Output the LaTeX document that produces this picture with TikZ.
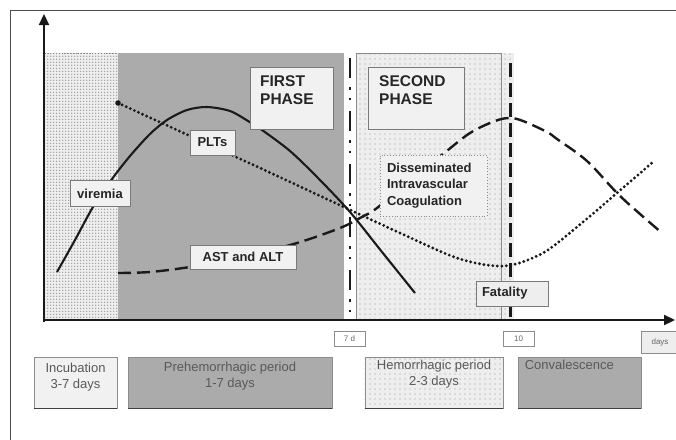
\documentclass[tikz,border=0pt]{standalone}
\usepackage{fontspec}
\setmainfont{Liberation Sans}
\usetikzlibrary{arrows.meta,patterns.meta}

% dot textures for the incubation and haemorrhagic phases
\pgfdeclarepattern{
  name=finedots, type=uncolored,
  bottom left={\pgfpoint{-1pt}{-1pt}}, top right={\pgfpoint{2pt}{2pt}},
  tile size={\pgfpoint{3pt}{3pt}},
  code={\pgfpathcircle{\pgfpointorigin}{0.7pt}\pgfusepath{fill}}}
\pgfdeclarepattern{
  name=sparsedots, type=uncolored,
  bottom left={\pgfpoint{-1pt}{-1pt}}, top right={\pgfpoint{4pt}{4pt}},
  tile size={\pgfpoint{5pt}{5pt}},
  code={\pgfpathcircle{\pgfpointorigin}{0.7pt}\pgfusepath{fill}}}

\definecolor{darkband}{HTML}{ABABAB}
\definecolor{lightband}{HTML}{EEEEEE}
\definecolor{boxfill}{HTML}{F1F1F1}
\definecolor{boxline}{HTML}{7A7A7A}
\definecolor{curveink}{HTML}{1A1A1A}

\tikzset{
  lbl/.style={draw=boxline, fill=boxfill, line width=0.9pt, text=black!85,
    font=\bfseries\fontsize{13}{16}\selectfont, inner sep=0pt},
  phasetext/.style={anchor=north west, inner sep=0pt, align=left, text=black!85,
    font=\bfseries\fontsize{15.5}{18.5}\selectfont},
  periodbox/.style={draw=black!45, line width=0.7pt, inner sep=0pt},
  periodtext/.style={inner sep=0pt, align=center, text=black!65,
    font=\fontsize{13}{16}\selectfont},
  ticklbl/.style={draw=black!45, line width=0.7pt, fill=white, inner sep=0pt,
    text=black!60, font=\fontsize{8}{9}\selectfont},
  solidcurve/.style={draw=curveink, line width=2.1pt},
  dotcurve/.style={draw=curveink, line width=3.2pt, line cap=round,
    dash pattern=on 0pt off 4.5pt},
  dashcurve/.style={draw=curveink, line width=2.4pt,
    dash pattern=on 13pt off 6pt},
  axisline/.style={draw=black!90, line width=2.2pt,
    -{Triangle[length=11pt,width=10pt]}},
}

\begin{document}
\begin{tikzpicture}[x=1pt,y=-1pt]
\useasboundingbox (0,0) rectangle (676,439);
\fill[white] (0,0) rectangle (676,439);

% outer frame
\draw[black!70, line width=0.9pt] (10,450) -- (10,10) -- (690,10);

% phase bands of the chart
\fill[lightband] (44,53) rectangle (118,320);
\fill[pattern=finedots, pattern color=black!45] (44,53) rectangle (118,320);
\draw[black!50, line width=0.8pt, dotted] (44,53) rectangle (118,320);
\fill[darkband] (118,53) rectangle (344,320);
\fill[lightband] (356,53) rectangle (514,320);
\fill[pattern=sparsedots, pattern color=black!40] (356,53) rectangle (514,320);
\draw[black!45, line width=0.7pt] (356,53) rectangle (501,320);

% day markers
\draw[curveink, line width=2.6pt,
  dash pattern=on 20pt off 9pt on 2.5pt off 8pt on 2.5pt off 11pt]
  (350,58) -- (350,320);
\draw[curveink, line width=3pt, dash pattern=on 14pt off 6pt]
  (510,63) -- (510,320);

% course of the laboratory values
\draw[solidcurve] plot[smooth, tension=0.5] coordinates {
  (57,272) (75,240) (93,207) (112,179) (130,156) (150,134) (167,120)
  (187,110) (207,107) (230,111) (248,121) (262,130) (290,151) (318,178)
  (350,212) (382,252) (415,293)};
\draw[dotcurve] plot[smooth, tension=0.5] coordinates {
  (118,103) (260,168) (400,233) (460,259) (505,266) (543,253)
  (577,227) (617,193) (653,162)};
\fill[curveink] (118,103) circle (2.8pt);
\draw[dashcurve] plot[smooth, tension=0.55] coordinates {
  (118,273) (150,272) (190,267) (240,258) (297,243) (340,228) (360,218)
  (377,208) (410,180) (443,154) (470,133) (495,121) (510,118) (523,121)
  (547,132) (557,139) (587,161) (617,193) (640,214) (662,233)};

% phase titles
\node[lbl, minimum width=83pt, minimum height=62pt] (first) at (291.5,98) {};
\node[phasetext] (firstt) at (260,75) {FIRST\\PHASE};
\node[lbl, minimum width=96pt, minimum height=62pt] (second) at (416,98) {};
\node[phasetext] (secondt) at (379,75) {SECOND\\PHASE};

% curve labels
\node[lbl, minimum width=45pt, minimum height=25pt] (plt) at (212.5,142.5) {PLTs};
\node[lbl, minimum width=60pt, minimum height=26pt] (vir) at (100,193.5) {viremia};
\node[lbl, minimum width=106pt, minimum height=24pt] (ast) at (243,257) {AST and ALT};
\node[lbl, dotted, draw=black!45, minimum width=107pt, minimum height=61pt,
  text width=93pt, align=left, font=\bfseries\fontsize{13}{16.5}\selectfont]
  (dic) at (433.5,185.5) {Disseminated\\Intravascular\\Coagulation};
\node[lbl, minimum width=72pt, minimum height=25pt, text width=60pt,
  align=left, fill=lightband] (fat) at (512,293.5) {Fatality};

% axes
\draw[axisline] (44,322) -- (44,14);
\draw[axisline] (43,320) -- (675,320);

% axis ticks
\node[ticklbl, minimum width=31pt, minimum height=15pt] (d7) at (349.5,338.5) {7 d};
\node[ticklbl, minimum width=31pt, minimum height=15pt] (d10) at (518.5,338.5) {10};
\node[ticklbl, fill=lightband, minimum width=38pt, minimum height=22pt]
  (days) at (660,342) {days};

% clinical periods
\node[periodbox, fill=boxfill, minimum width=83pt, minimum height=51pt]
  (inc) at (75.5,382.5) {};
\node[periodtext, anchor=north] (inct) at ([yshift=-6pt]inc.north) {Incubation\\3-7 days};
\node[periodbox, fill=darkband, minimum width=204pt, minimum height=51pt]
  (pre) at (230,382.5) {};
\node[periodtext, anchor=north] (pret) at ([yshift=-5pt]pre.north) {Prehemorrhagic period\\1-7 days};
\node[periodbox, fill=lightband, minimum width=138pt, minimum height=51pt]
  (hem) at (434,382.5) {};
\fill[pattern=sparsedots, pattern color=black!40] (hem.north west) rectangle (hem.south east);
\node[periodtext, anchor=north] (hemt) at ([yshift=-3pt]hem.north) {Hemorrhagic period\\2-3 days};
\node[periodbox, fill=darkband, minimum width=123pt, minimum height=51pt]
  (con) at (579.5,382.5) {};
\node[periodtext, anchor=north west] (cont) at ([xshift=7pt,yshift=-3pt]con.north west) {Convalescence};
\foreach \b in {inc,pre,hem,con}
  \draw[black!75, line width=1.4pt] (\b.south west) -- (\b.south east);
\end{tikzpicture}
\end{document}
